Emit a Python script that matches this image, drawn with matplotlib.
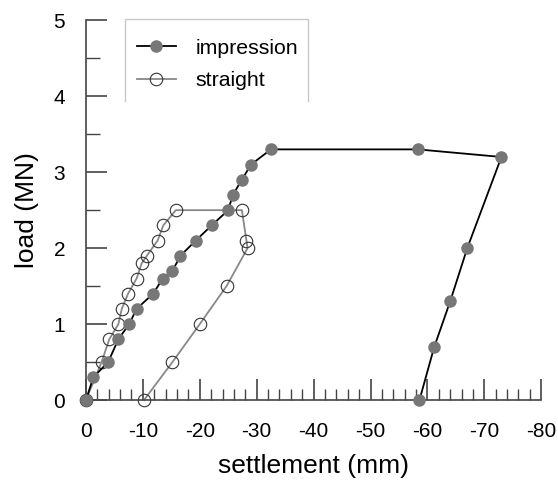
import matplotlib
matplotlib.use("Agg")
import matplotlib.pyplot as plt
from matplotlib.ticker import MultipleLocator

plt.rcParams['font.family'] = ['Liberation Sans', 'DejaVu Sans']
plt.rcParams['axes.unicode_minus'] = False

# impression pile: settlement (mm) vs load (MN)
imp_x = [0, -1.3, -3.9, -5.7, -7.6, -8.9, -11.8, -13.5, -15.2, -16.6, -19.3, -22.1,
         -25.0, -25.8, -27.4, -29.0, -32.5, -58.3, -73.0, -67.0, -64.0, -61.2, -58.6]
imp_y = [0, 0.3, 0.5, 0.8, 1.0, 1.2, 1.4, 1.6, 1.7, 1.9, 2.1, 2.3,
         2.5, 2.7, 2.9, 3.1, 3.3, 3.3, 3.2, 2.0, 1.3, 0.7, 0]

# straight pile
str_x = [0, -2.75, -4.1, -5.7, -6.3, -7.4, -8.9, -9.8, -10.7, -12.6, -13.6, -15.8,
         -27.4, -28.2, -28.4, -24.7, -20.0, -15.2, -10.2]
str_y = [0, 0.5, 0.8, 1.0, 1.2, 1.4, 1.6, 1.8, 1.9, 2.1, 2.3, 2.5,
         2.5, 2.1, 2.0, 1.5, 1.0, 0.5, 0]

fig = plt.figure(figsize=(5.58, 4.82), dpi=100)
ax = fig.add_axes([0.154, 0.170, 0.816, 0.788])

l1, = ax.plot(imp_x, imp_y, color='black', lw=1.3, marker='o', ms=8,
              mfc='#777777', mec='#777777', zorder=3, clip_on=False, label='impression')
l2, = ax.plot(str_x, str_y, color='#888888', lw=1.3, marker='o', ms=9,
              mfc='none', mec='#333333', mew=0.8, zorder=2, clip_on=False, label='straight')

ax.set_xlim(0, -80)
ax.set_ylim(0, 5)
ax.xaxis.set_major_locator(MultipleLocator(10))
ax.xaxis.set_minor_locator(MultipleLocator(2))
ax.yaxis.set_major_locator(MultipleLocator(1))
ax.yaxis.set_minor_locator(MultipleLocator(0.5))

for s in ['top', 'right']:
    ax.spines[s].set_visible(False)
for s in ['left', 'bottom']:
    ax.spines[s].set_color('#444444')
    ax.spines[s].set_linewidth(1.2)

ax.tick_params(which='major', direction='in', length=15, width=1.2, color='#444444',
               labelsize=15)
ax.tick_params(which='minor', direction='in', length=8, width=1.0, color='#444444')
ax.tick_params(axis='y', which='minor', length=10)
ax.tick_params(axis='x', which='major', pad=16)
ax.tick_params(axis='y', which='major', pad=15)

ax.set_xlabel('settlement (mm)', fontsize=19, labelpad=9)
ax.set_ylabel('load (MN)', fontsize=19, labelpad=10)

leg = ax.legend(handles=[l1, l2], loc='upper left', bbox_to_anchor=(0.086, 0.982),
                fontsize=15.3, frameon=False, borderpad=0.55,
                labelspacing=0.62, handlelength=1.85, handletextpad=0.9, borderaxespad=0)

# legend box: top, left and right edges only
bx0, bx1, by0, by1 = 0.0857, 0.488, 0.787, 1.0026
ax.plot([bx0, bx0, bx1, bx1], [by0, by1, by1, by0], color='#c8c8c8', lw=1.0,
        transform=ax.transAxes, clip_on=False, zorder=1)

fig.savefig('out.png', dpi=100)
